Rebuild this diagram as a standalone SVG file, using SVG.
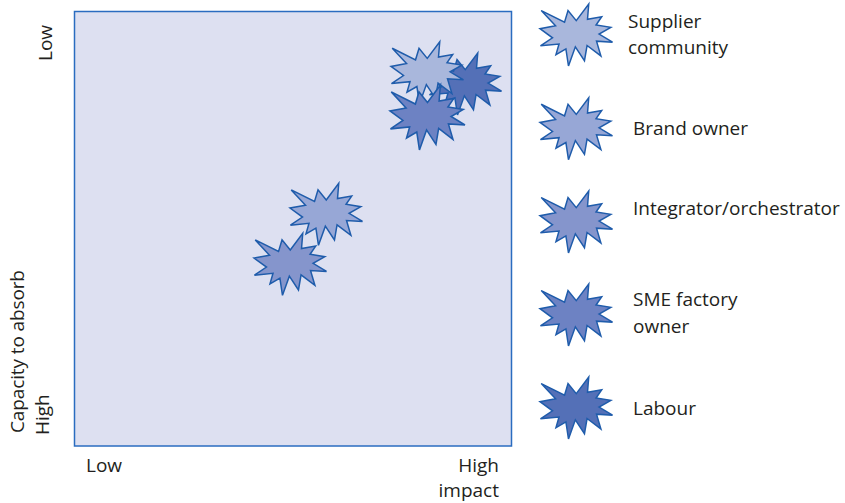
<svg xmlns="http://www.w3.org/2000/svg" xmlns:xlink="http://www.w3.org/1999/xlink" width="845" height="503" viewBox="0 0 845 503">
<style>
  .lbl { font-family: "Open Sans", "Noto Sans", sans-serif; font-size: 19px; fill: #231f20; }
  .star { stroke: #1f5cab; stroke-width: 1.5; stroke-linejoin: miter; }
  .c1 { fill: #a9b7dc; }
  .c2 { fill: #97a7d6; }
  .c3 { fill: #8595cc; }
  .c4 { fill: #6d82c3; }
  .c5 { fill: #5470b7; }
</style>
<defs>
  <path id="burst" d="M36.25,16.65 L48.74,0 L47.51,15.28 L61.69,12.79 L56.06,21 L70.81,23.36 L59.1,30.07 L72.5,38.15 L56.51,37.15 L60.9,51.94 L47.06,41.5 L44.46,56.65 L35.35,42.87 L28.48,62 L25.9,44.86 L15.98,50.57 L19.02,40.01 L0.45,41.87 L12.49,33.8 L0,24.73 L15.53,21.86 L1.24,6.59 L24.54,18.14 L28.03,6.59 Z"/>
</defs>
<g id="plot-area">
  <rect x="74.5" y="11.5" width="437" height="434.5" fill="#dde0f1" stroke="#2a6cc0" stroke-width="1.5"/>
</g>
<g id="axis-labels">
  <text class="lbl" transform="translate(52,61) rotate(-90)">Low</text>
  <text class="lbl" transform="translate(24,433) rotate(-90)" textLength="163" lengthAdjust="spacing">Capacity to absorb</text>
  <text class="lbl" transform="translate(49,435) rotate(-90)">High</text>
  <text class="lbl" x="86" y="472">Low</text>
  <text class="lbl" x="499" y="472" text-anchor="end">High</text>
  <text class="lbl" x="499" y="497" text-anchor="end">impact</text>
</g>
<g id="connectors"/>
<g id="chart-labour"><use xlink:href="#burst" class="star c5" transform="translate(429,53)"/></g>
<g id="chart-supplier-community"><use xlink:href="#burst" class="star c1" transform="translate(391,41.7)"/></g>
<g id="chart-sme-factory-owner"><use xlink:href="#burst" class="star c4" transform="translate(390,85) scale(1.034,1.048)"/></g>
<g id="chart-brand-owner"><use xlink:href="#burst" class="star c2" transform="translate(290,183.3)"/></g>
<g id="chart-integrator"><use xlink:href="#burst" class="star c3" transform="translate(254,233.3)"/></g>
<g id="legend-supplier-community">
  <use xlink:href="#burst" class="star c1" transform="translate(540,4)"/>
  <text class="lbl" x="628" y="28">Supplier</text>
  <text class="lbl" x="628" y="54">community</text>
</g>
<g id="legend-brand-owner">
  <use xlink:href="#burst" class="star c2" transform="translate(540,97.7)"/>
  <text class="lbl" x="633" y="135">Brand owner</text>
</g>
<g id="legend-integrator">
  <use xlink:href="#burst" class="star c3" transform="translate(540,191)"/>
  <text class="lbl" x="633" y="215">Integrator/orchestrator</text>
</g>
<g id="legend-sme-factory-owner">
  <use xlink:href="#burst" class="star c4" transform="translate(540,284)"/>
  <text class="lbl" x="633" y="306">SME factory</text>
  <text class="lbl" x="633" y="333">owner</text>
</g>
<g id="legend-labour">
  <use xlink:href="#burst" class="star c5" transform="translate(540,377)"/>
  <text class="lbl" x="633" y="415">Labour</text>
</g>
</svg>
